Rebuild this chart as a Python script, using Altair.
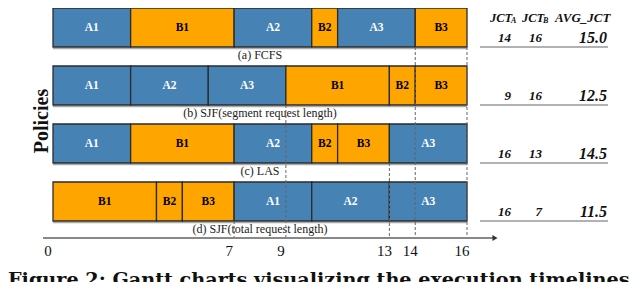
import altair as alt
import pandas as pd

# ---------------- data ----------------
captions = ["(a) FCFS", "(b) SJF(segment request length)", "(c) LAS", "(d) SJF(total request length)"]
job_names = ["A1", "A2", "A3", "B1", "B2", "B3"]
job_lengths = [3, 3, 3, 4, 1, 2]
orders = [
    ["A1", "B1", "A2", "B2", "A3", "B3"],
    ["A1", "A2", "A3", "B1", "B2", "B3"],
    ["A1", "B1", "A2", "B2", "B3", "A3"],
    ["B1", "B2", "B3", "A1", "A2", "A3"],
]
jct_a = [14, 9, 16, 16]
jct_b = [16, 16, 13, 7]
avg_jct = [15.0, 12.5, 14.5, 11.5]
tick_values = [0, 7, 9, 13, 14, 16]

# ---------------- layout ----------------
W, H = 624, 274
X0, PX = 45, 25.875          # pixel of t=0, pixels per time unit
STEP, BAR = 58, 39           # row pitch and bar height (px)
AXIS_Y = 230
FONT = "Liberation Serif"
BLUE, ORANGE = "#4682B4", "#FFA500"

length = dict(zip(job_names, job_lengths))
rows = []
for r, order in enumerate(orders):
    t = 0
    for j in order:
        rows.append({"row": r, "job": j, "kind": j[0], "start": t, "end": t + length[j]})
        t += length[j]
seg = pd.DataFrame(rows)
seg["mid"] = (seg["start"] + seg["end"]) / 2
seg["y0"] = seg["row"]
seg["y1"] = seg["row"] + BAR / STEP
seg["ym"] = seg["row"] + BAR / 2 / STEP
total = float(seg["end"].max())

pol = pd.DataFrame({"row": range(4), "caption": captions, "a": jct_a, "b": jct_b,
                    "avg": [f"{v:.1f}" for v in avg_jct]})
pol["y1"] = pol["row"] + BAR / STEP
pol["ycap"] = pol["row"] + (BAR / 2 + 27.5) / STEP
pol["yval"] = pol["row"] + (BAR / 2 + 10) / STEP
pol["xcap"] = total / 2
pol["x0"] = 0.0
pol["x1"] = total

# dashed markers: each completion time first seen in a row
seen, marks = set(), []
for r in range(4):
    for v in (jct_a[r], jct_b[r]):
        if v not in seen:
            seen.add(v)
            marks.append({"t": v, "y": r + BAR / STEP})
mk = pd.DataFrame(marks)
ticks = pd.DataFrame({"t": tick_values})
one = pd.DataFrame({"a": [0]})

xs = alt.Scale(domain=[-X0 / PX, (W - X0) / PX], nice=False, zero=False)
ys = alt.Scale(domain=[0, H / STEP], reverse=True, nice=False, zero=False)

shadow = alt.Chart(pol).mark_rule(color="#aaaaaa", strokeWidth=1.5, yOffset=1.5).encode(
    x=alt.X("x0:Q", scale=xs, axis=None), x2="x1:Q",
    y=alt.Y("y1:Q", scale=ys, axis=None))

bars = alt.Chart(seg).mark_rect(stroke="#2b2b2b", strokeWidth=1.3).encode(
    x=alt.X("start:Q", scale=xs, axis=None), x2="end:Q",
    y=alt.Y("y0:Q", scale=ys, axis=None), y2="y1:Q",
    color=alt.Color("kind:N", scale=alt.Scale(domain=["A", "B"], range=[BLUE, ORANGE]), legend=None))

labels = alt.Chart(seg).mark_text(font=FONT, fontWeight="bold", fontSize=11.5, baseline="middle").encode(
    x=alt.X("mid:Q", scale=xs, axis=None), y=alt.Y("ym:Q", scale=ys, axis=None), text="job:N",
    color=alt.condition(alt.datum.kind == "A", alt.value("white"), alt.value("black")))

caps = alt.Chart(pol).mark_text(font=FONT, fontSize=12, baseline="middle", color="#222").encode(
    x=alt.X("xcap:Q", scale=xs, axis=None), y=alt.Y("ycap:Q", scale=ys, axis=None), text="caption:N")

dashes = alt.Chart(mk).mark_rule(color="#666666", strokeDash=[3, 2], strokeWidth=1).encode(
    x=alt.X("t:Q", scale=xs, axis=None), y=alt.Y("y:Q", scale=ys, axis=None), y2=alt.value(AXIS_Y))

val_style = dict(font=FONT, fontWeight="bold", fontStyle="italic", baseline="middle", align="right", color="#111")
va = alt.Chart(pol).mark_text(fontSize=13, **val_style).encode(
    x=alt.value(503), y=alt.Y("yval:Q", scale=ys, axis=None), text="a:Q")
vb = alt.Chart(pol).mark_text(fontSize=13, **val_style).encode(
    x=alt.value(534), y=alt.Y("yval:Q", scale=ys, axis=None), text="b:Q")
vavg = alt.Chart(pol).mark_text(fontSize=16, **val_style).encode(
    x=alt.value(599), y=alt.Y("yval:Q", scale=ys, axis=None), text="avg:N")
under = alt.Chart(pol).mark_rule(color="#999999", strokeWidth=1.5).encode(
    x=alt.value(472), x2=alt.value(600), y=alt.Y("y1:Q", scale=ys, axis=None))

hdr_style = dict(font=FONT, fontWeight="bold", fontStyle="italic", baseline="middle", align="left", color="#111")
hdr = alt.layer(
    alt.Chart(one).mark_text(fontSize=12.5, **hdr_style).encode(x=alt.value(482), y=alt.value(10), text=alt.value("JCT")),
    alt.Chart(one).mark_text(fontSize=8, **hdr_style).encode(x=alt.value(503), y=alt.value(13), text=alt.value("A")),
    alt.Chart(one).mark_text(fontSize=12.5, **hdr_style).encode(x=alt.value(514), y=alt.value(10), text=alt.value("JCT")),
    alt.Chart(one).mark_text(fontSize=8, **hdr_style).encode(x=alt.value(535), y=alt.value(13), text=alt.value("B")),
    alt.Chart(one).mark_text(fontSize=13, **hdr_style).encode(x=alt.value(547), y=alt.value(10), text=alt.value("AVG_JCT")),
)

axis_line = alt.Chart(one).mark_rule(color="#888888", strokeWidth=2).encode(
    x=alt.value(35), x2=alt.value(485), y=alt.value(AXIS_Y))
arrow = alt.Chart(one).mark_point(shape="triangle-right", filled=True, color="#333333", size=35, opacity=1).encode(
    x=alt.value(487), y=alt.value(AXIS_Y))
tick_lbl = alt.Chart(ticks).mark_text(font=FONT, fontSize=15, dx=-5, baseline="middle", color="#111").encode(
    x=alt.X("t:Q", scale=xs, axis=None), y=alt.value(243), text="t:Q")

ytitle = alt.Chart(one).mark_text(font=FONT, fontSize=20, fontWeight="bold", angle=270, baseline="middle", color="#111").encode(
    x=alt.value(34), y=alt.value(113), text=alt.value("Policies"))

fig_cap = alt.Chart(one).mark_text(font="DejaVu Serif", fontSize=19.2, fontWeight="bold", align="left", baseline="alphabetic", color="#111").encode(
    x=alt.value(0), y=alt.value(278), text=alt.value("Figure 2: Gantt charts visualizing the execution timelines"))

chart = alt.layer(
    shadow, bars, labels, caps, dashes, va, vb, vavg, under, hdr,
    axis_line, arrow, tick_lbl, ytitle, fig_cap
).properties(width=W, height=H, autosize="none", padding=0).configure_view(stroke=None)

chart.save("out.html", embed_options={"renderer": "svg", "actions": False})
